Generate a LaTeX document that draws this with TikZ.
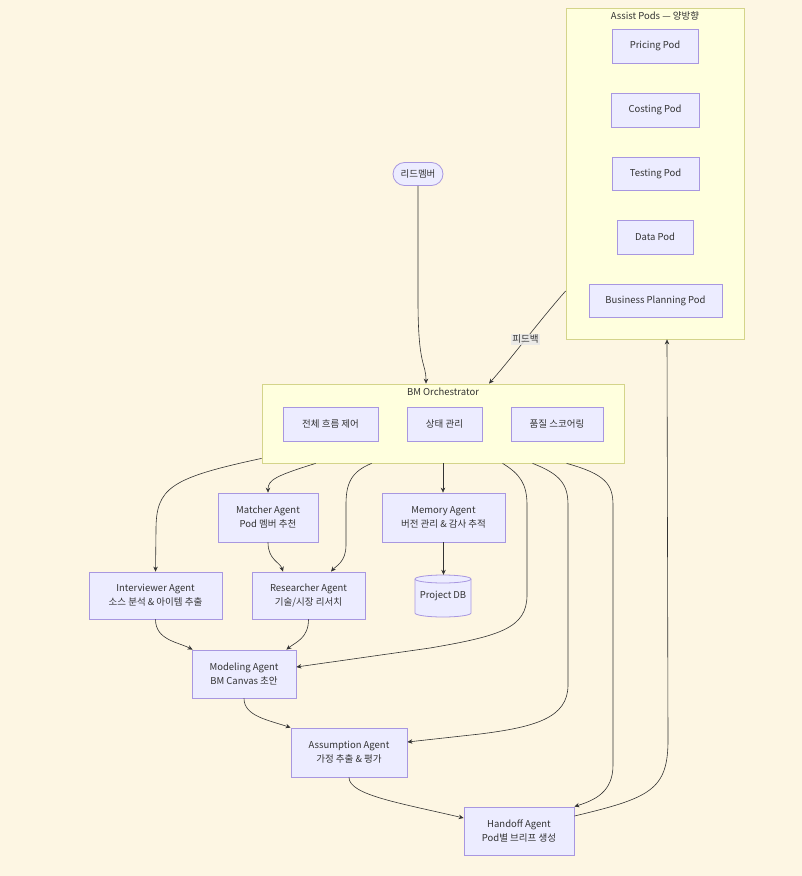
\documentclass[tikz,border=0pt]{standalone}
\usepackage{fontspec}
\setmainfont{Noto Sans CJK KR}
\usetikzlibrary{arrows.meta}
\definecolor{bgc}{HTML}{FDF6E3}
\definecolor{nfill}{HTML}{ECECFF}
\definecolor{nstroke}{HTML}{A897E0}
\definecolor{cfill}{HTML}{FFFFDE}
\definecolor{cstroke}{HTML}{D4D48A}
\definecolor{ecol}{HTML}{333333}
\definecolor{tcol}{HTML}{333333}
\tikzset{
  agent/.style={draw=nstroke, fill=nfill, line width=0.8pt, text=tcol, align=center, inner sep=0pt, font=\fontsize{9.5}{14}\selectfont},
  cluster/.style={draw=cstroke, fill=cfill, line width=0.8pt, inner sep=0pt},
  ctitle/.style={text=tcol, font=\fontsize{9.5}{12}\selectfont, inner sep=0pt},
  flow/.style={draw=ecol, line width=0.6pt, -{Stealth[length=5pt,width=4.5pt]}},
  elabel/.style={fill=gray!18, fill opacity=0.85, text opacity=1, text=tcol, font=\fontsize{9.5}{12}\selectfont, inner sep=1.5pt}
}
\begin{document}
\begin{tikzpicture}[x=1pt,y=-1pt]
\useasboundingbox (0,0) rectangle (802,876);
\fill[bgc] (0,0) rectangle (802,876);

% clusters
\node[cluster, minimum width=178pt, minimum height=331pt] (assist) at (655,173.5) {};
\node[ctitle] (assisttitle) at (655,16) {Assist Pods — 양방향};
\node[cluster, minimum width=362pt, minimum height=79pt] (orch) at (443,423.5) {};
\node[ctitle] (orchtitle) at (443,392) {BM Orchestrator};

% pods
\node[agent, minimum width=86pt, minimum height=34pt] (pricing) at (655,46) {Pricing Pod};
\node[agent, minimum width=88pt, minimum height=34pt] (costing) at (655,110) {Costing Pod};
\node[agent, minimum width=87pt, minimum height=33pt] (testing) at (655.5,173.5) {Testing Pod};
\node[agent, minimum width=76pt, minimum height=34pt] (data) at (655,237) {Data Pod};
\node[agent, minimum width=133pt, minimum height=33pt] (bpp) at (655.5,300.5) {Business Planning Pod};

% lead
\node[agent, rounded corners=11.5pt, minimum width=50pt, minimum height=23pt] (lead) at (418,174) {리드멤버};

% orchestrator inner
\node[agent, minimum width=95pt, minimum height=34pt] (flowctl) at (330.5,424) {전체 흐름 제어};
\node[agent, minimum width=75pt, minimum height=34pt] (state) at (444.5,424) {상태 관리};
\node[agent, minimum width=92pt, minimum height=34pt] (quality) at (557,424) {품질 스코어링};

% agents
\node[agent, minimum width=100pt, minimum height=49pt] (matcher) at (268,517.5) {Matcher Agent\\Pod 멤버 추천};
\node[agent, minimum width=123pt, minimum height=49pt] (memory) at (443.5,517.5) {Memory Agent\\버전 관리 \& 감사 추적};
\node[agent, minimum width=133pt, minimum height=47pt] (interviewer) at (155.5,595.5) {Interviewer Agent\\소스 분석 \& 아이템 추출};
\node[agent, minimum width=113pt, minimum height=47pt] (researcher) at (308.5,595.5) {Researcher Agent\\기술/시장 리서치};
\node[agent, minimum width=104pt, minimum height=48pt] (modeling) at (244,674) {Modeling Agent\\BM Canvas 초안};
\node[agent, minimum width=116pt, minimum height=49pt] (assumption) at (349,752.5) {Assumption Agent\\가정 추출 \& 평가};
\node[agent, minimum width=110pt, minimum height=48pt] (handoff) at (519,831) {Handoff Agent\\Pod별 브리프 생성};

% project DB cylinder
\fill[nfill] (415,579) -- (415,613) arc[start angle=180, end angle=0, x radius=28, y radius=4] -- (471,579) -- cycle;
\fill[nfill] (443,579) ellipse[x radius=28, y radius=4];
\draw[nstroke, line width=0.8pt] (415,579) -- (415,613) arc[start angle=180, end angle=0, x radius=28, y radius=4] -- (471,579);
\draw[nstroke, line width=0.8pt] (443,579) ellipse[x radius=28, y radius=4];
\node[text=tcol, font=\fontsize{9.5}{12}\selectfont, minimum width=56pt, minimum height=42pt, inner sep=0pt] (projdb) at (443,596) {Project DB};

% edges
\draw[flow] (lead.south) -- (418,300) .. controls (418,368) and (426,362) .. ([xshift=-17pt]orch.north);
\draw[flow] ([yshift=-117.5pt]assist.west) .. controls (540,320) and (510,360) .. ([xshift=46pt]orch.north)
  node[elabel, pos=0.5] (fb) {피드백};
\draw[flow] ([yshift=15pt]handoff.east) .. controls (650,798) and (668,790) .. (668,740) -- ([xshift=12pt]assist.south);

\draw[flow] ([yshift=5pt]orch.south west) .. controls (170,478) and (156,488) .. (156,530) -- (interviewer.north);
\draw[flow] ([xshift=54pt]orch.south west) .. controls (275,476) and (268,480) .. (matcher.north);
\draw[flow] ([xshift=110pt]orch.south west) .. controls (350,472) and (346,485) .. (346,505) -- (346,545) .. controls (346,562) and (336,566) .. ([xshift=22.5pt]researcher.north);
\draw[flow] (orch.south) -- (memory.north -| orch.south);
\draw[flow] ([xshift=241pt]orch.south west) .. controls (520,474) and (527,484) .. (527,505) -- (527,595) .. controls (527,628) and (500,636) .. (430,648) -- ([yshift=7pt]modeling.east);
\draw[flow] ([xshift=271pt]orch.south west) .. controls (560,474) and (568,484) .. (568,505) -- (568,685) .. controls (568,718) and (535,727) .. (480,734) -- ([yshift=10.5pt]assumption.east);
\draw[flow] ([xshift=305pt]orch.south west) .. controls (605,474) and (613,484) .. (613,505) -- (613,765) .. controls (613,792) and (595,800) .. (handoff.north east);

\draw[flow] (memory.south) -- (projdb.north -| memory.south);
\draw[flow] (matcher.south) .. controls (268,560) and (280,562) .. ([xshift=-25.5pt]researcher.north);
\draw[flow] (interviewer.south) .. controls (155.5,640) and (178,642) .. ([xshift=1pt]modeling.north west);
\draw[flow] (researcher.south) .. controls (308.5,638) and (296,642) .. ([xshift=-10pt]modeling.north east);
\draw[flow] (modeling.south) .. controls (244,716) and (268,720) .. (assumption.north west);
\draw[flow] (assumption.south) .. controls (349,795) and (400,803) .. ([yshift=13pt]handoff.west);
\end{tikzpicture}
\end{document}
